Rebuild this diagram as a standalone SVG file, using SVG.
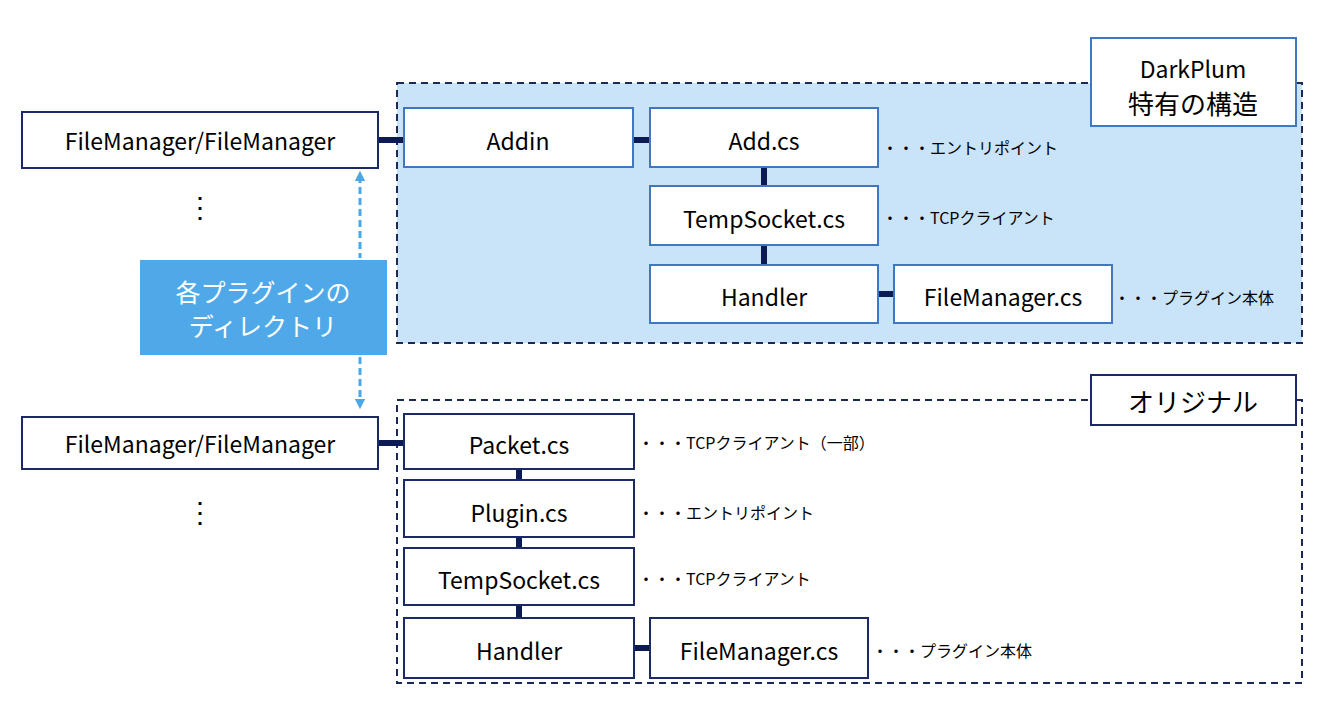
<svg xmlns="http://www.w3.org/2000/svg" width="1326" height="706" viewBox="0 0 1326 706">
<style>
text{font-family:"Noto Sans CJK JP","Liberation Sans",sans-serif;fill:#000}
.b{fill:#fff;stroke:#3f78c0;stroke-width:2}
.n{fill:#fff;stroke:#1b2a66;stroke-width:2}
.t{font-size:23px;text-anchor:middle;dominant-baseline:central}
.a{font-size:16px;dominant-baseline:central}
.c{stroke:#0d1b55;stroke-width:6}
.d{fill:none;stroke:#1b2a55;stroke-width:2;stroke-dasharray:7,5}
</style>
<defs><marker id="ar" viewBox="0 0 10 10" refX="5" refY="5" markerWidth="3.5" markerHeight="3.5" orient="auto-start-reverse"><path d="M0,0L10,5L0,10z" fill="#4aa8ea"/></marker></defs>
<rect width="1326" height="706" fill="#fff"/>
<g id="darkplum-region"><rect x="397" y="83" width="905" height="260" class="d" style="fill:#c9e3f8"/></g>
<g id="original-region"><rect x="397" y="400" width="905" height="283" class="d"/></g>
<g id="connectors">
<line class="c" x1="378" y1="140" x2="404" y2="140"/>
<line class="c" x1="633" y1="140" x2="650" y2="140"/>
<line class="c" x1="764" y1="167" x2="764" y2="186"/>
<line class="c" x1="764" y1="245" x2="764" y2="265"/>
<line class="c" x1="878" y1="294" x2="894" y2="294"/>
<line class="c" x1="378" y1="443" x2="404" y2="443"/>
<line class="c" x1="519" y1="469" x2="519" y2="480"/>
<line class="c" x1="519" y1="537" x2="519" y2="548"/>
<line class="c" x1="519" y1="605" x2="519" y2="618"/>
<line class="c" x1="634" y1="648" x2="650" y2="648"/>
<line x1="360" y1="176" x2="360" y2="258" stroke="#4aa8ea" stroke-width="3" stroke-dasharray="7,4" marker-start="url(#ar)"/>
<line x1="360" y1="357" x2="360" y2="404" stroke="#4aa8ea" stroke-width="3" stroke-dasharray="7,4" marker-end="url(#ar)"/>
</g>
<g id="fm-top"><rect class="n" x="22" y="112" width="356" height="56"/><text class="t" x="200" y="140">FileManager/FileManager</text></g>
<g id="fm-bottom"><rect class="n" x="22" y="417" width="356" height="52"/><text class="t" x="200" y="443">FileManager/FileManager</text></g>
<g id="dots"><text class="t" x="200" y="205" style="font-size:28px">⋮</text><text class="t" x="200" y="510" style="font-size:28px">⋮</text></g>
<g id="dir-label"><rect x="140" y="260" width="247" height="95" fill="#4fa9e8"/><text class="t" x="263" y="291" style="fill:#fff;font-size:25px">各プラグインの</text><text class="t" x="263" y="325" style="fill:#fff;font-size:25px">ディレクトリ</text></g>
<g id="addin"><rect class="b" x="404" y="108" width="229" height="59"/><text class="t" x="518" y="140">Addin</text></g>
<g id="addcs"><rect class="b" x="650" y="108" width="228" height="59"/><text class="t" x="764" y="140">Add.cs</text><text class="a" x="882" y="147">・・・エントリポイント</text></g>
<g id="tempsocket1"><rect class="b" x="650" y="186" width="228" height="59"/><text class="t" x="764" y="218">TempSocket.cs</text><text class="a" x="882" y="217">・・・TCPクライアント</text></g>
<g id="handler1"><rect class="b" x="650" y="265" width="228" height="58"/><text class="t" x="764" y="296">Handler</text></g>
<g id="fmcs1"><rect class="b" x="894" y="265" width="218" height="58"/><text class="t" x="1003" y="296">FileManager.cs</text><text class="a" x="1114" y="297">・・・プラグイン本体</text></g>
<g id="darkplum-label"><rect class="b" x="1091" y="38" width="205" height="88"/><text class="t" x="1193" y="68">DarkPlum</text><text class="t" x="1193" y="102" style="font-size:26px">特有の構造</text></g>
<g id="original-label"><rect class="n" x="1091" y="375" width="205" height="50"/><text class="t" x="1193" y="400" style="font-size:26px">オリジナル</text></g>
<g id="packet"><rect class="n" x="404" y="414" width="230" height="55"/><text class="t" x="519" y="444">Packet.cs</text><text class="a" x="638" y="442">・・・TCPクライアント（一部）</text></g>
<g id="plugin"><rect class="n" x="404" y="480" width="230" height="57"/><text class="t" x="519" y="512">Plugin.cs</text><text class="a" x="638" y="512">・・・エントリポイント</text></g>
<g id="tempsocket2"><rect class="n" x="404" y="548" width="230" height="57"/><text class="t" x="519" y="579">TempSocket.cs</text><text class="a" x="638" y="578">・・・TCPクライアント</text></g>
<g id="handler2"><rect class="n" x="404" y="618" width="230" height="60"/><text class="t" x="519" y="650">Handler</text></g>
<g id="fmcs2"><rect class="n" x="650" y="618" width="218" height="60"/><text class="t" x="759" y="650">FileManager.cs</text><text class="a" x="872" y="650">・・・プラグイン本体</text></g>
</svg>
